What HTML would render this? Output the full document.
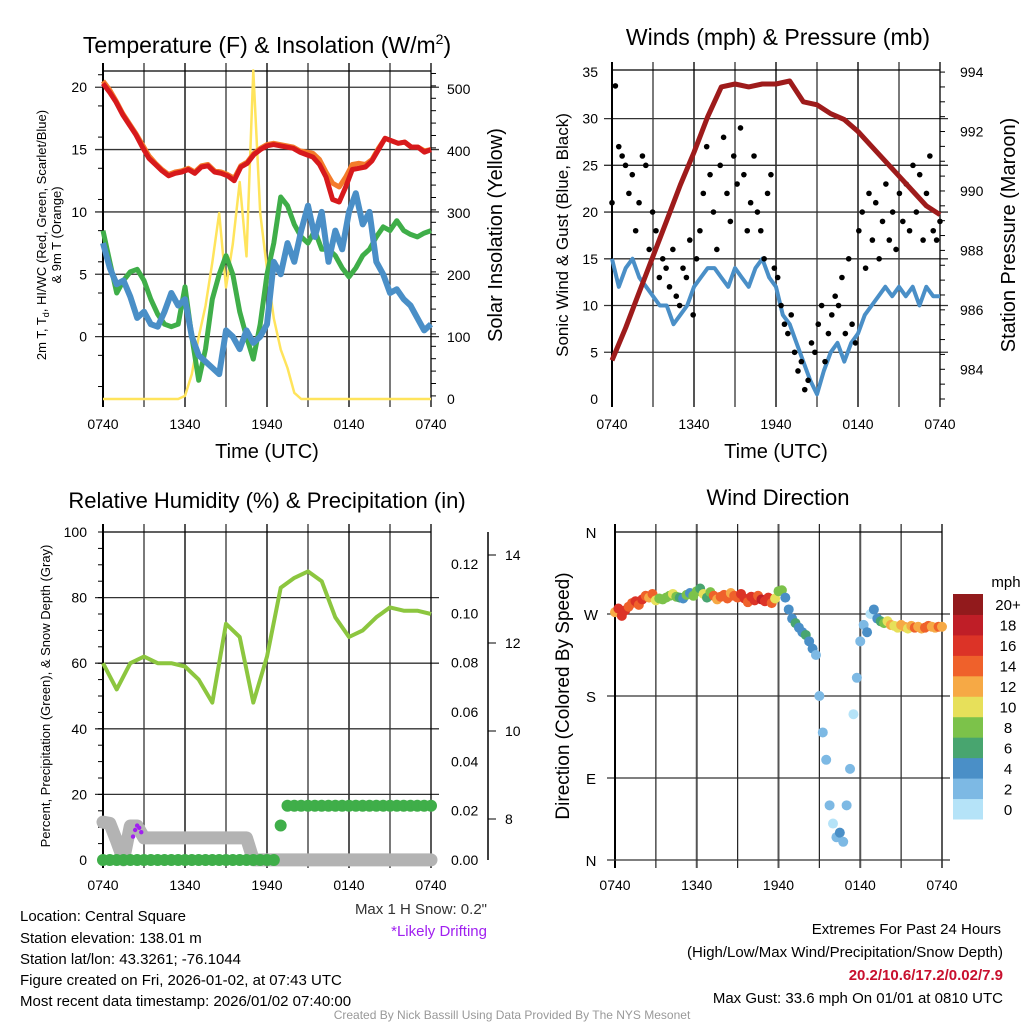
<!DOCTYPE html>
<html><head><meta charset="utf-8"><style>
html,body{margin:0;padding:0;background:#fff;}
svg{display:block;font-family:"Liberation Sans",Arial,sans-serif;}
</style></head><body>
<svg id="chart" width="1024" height="1024" viewBox="0 0 1024 1024" xmlns="http://www.w3.org/2000/svg">
<rect width="1024" height="1024" fill="#fff"/>
<text x="267" y="53" font-size="23" text-anchor="middle">Temperature (F) &amp; Insolation (W/m<tspan dy="-9" font-size="14">2</tspan><tspan dy="9">)</tspan></text>
<text x="778" y="45" font-size="23" text-anchor="middle">Winds (mph) &amp; Pressure (mb)</text>
<text x="267" y="508" font-size="22" text-anchor="middle">Relative Humidity (%) &amp; Precipitation (in)</text>
<text x="778" y="505" font-size="22" text-anchor="middle">Wind Direction</text>

<text transform="translate(46,235) rotate(-90)" font-size="13" text-anchor="middle">2m T, T<tspan dy="3" font-size="9">d</tspan><tspan dy="-3">, HI/WC (Red, Green, Scarlet/Blue)</tspan></text>
<text transform="translate(61,235) rotate(-90)" font-size="13" text-anchor="middle">&amp; 9m T (Orange)</text>
<text transform="translate(502,235) rotate(-90)" font-size="20" text-anchor="middle">Solar Insolation (Yellow)</text>
<text x="267" y="458" font-size="20" text-anchor="middle">Time (UTC)</text>
<text transform="translate(568,235) rotate(-90)" font-size="17" text-anchor="middle">Sonic Wind &amp; Gust (Blue, Black)</text>
<text transform="translate(1015,235) rotate(-90)" font-size="20" text-anchor="middle">Station Pressure (Maroon)</text>
<text x="776" y="458" font-size="20" text-anchor="middle">Time (UTC)</text>
<text transform="translate(50,696) rotate(-90)" font-size="13" text-anchor="middle">Percent, Precipitation (Green), &amp; Snow Depth (Gray)</text>
<text transform="translate(569,696) rotate(-90)" font-size="19" text-anchor="middle">Direction (Colored By Speed)</text>

<g font-size="15">
<text x="20" y="921">Location: Central Square</text>
<text x="20" y="943">Station elevation: 138.01 m</text>
<text x="20" y="964">Station lat/lon: 43.3261; -76.1044</text>
<text x="20" y="985">Figure created on Fri, 2026-01-02, at 07:43 UTC</text>
<text x="20" y="1006">Most recent data timestamp: 2026/01/02 07:40:00</text>
</g>
<text x="487" y="914" font-size="15" text-anchor="end" fill="#333">Max 1 H Snow: 0.2"</text>
<text x="487" y="936" font-size="15" text-anchor="end" fill="#a020f0">*Likely Drifting</text>
<g font-size="15" text-anchor="end">
<text x="1001" y="934">Extremes For Past 24 Hours</text>
<text x="1003" y="957">(High/Low/Max Wind/Precipitation/Snow Depth)</text>
<text x="1003" y="980" fill="#c8102e" font-weight="bold">20.2/10.6/17.2/0.02/7.9</text>
<text x="1003" y="1003">Max Gust: 33.6 mph On 01/01 at 0810 UTC</text>
</g>
<text x="512" y="1019" font-size="12" text-anchor="middle" fill="#999">Created By Nick Bassill Using Data Provided By The NYS Mesonet</text>
</svg>
<script>
// ---- data ----
const timeLabels = ["0740","1340","1940","0140","0740"];
const tempRed = [20.3,19.6,18.8,17.8,17.0,16.2,15.2,14.3,13.8,13.3,12.9,13.1,13.2,13.4,13.1,13.6,13.7,13.2,13.1,12.9,12.5,13.6,13.9,14.6,15.0,15.3,15.4,15.3,15.2,15.1,14.8,14.6,14.4,13.8,12.8,11.0,10.8,12.0,13.4,13.5,13.6,14.1,15.0,15.9,15.7,15.5,15.6,15.2,15.2,14.8,15.0];
const temp9m = [20.5,19.8,18.9,17.9,17.1,16.3,15.4,14.5,13.9,13.4,13.0,13.2,13.3,13.5,13.2,13.7,13.8,13.3,13.2,13.0,12.7,13.7,14.0,14.7,15.1,15.4,15.5,15.4,15.3,15.2,14.9,14.8,14.7,14.2,13.2,12.3,12.0,12.8,13.8,13.9,13.8,14.2,15.1,15.9,15.7,15.5,15.6,15.2,15.2,14.9,15.0];
const dewGreen = [8.5,6,3.5,4.5,5.2,5.4,4.5,3,1.8,1,0.8,1,4,0,-3.5,-1,3,5,6.5,5,2,0,-1.8,1,5,7.5,11.2,10.5,9,8,7.5,8.5,7,7,6.5,5.5,4.8,5.5,6.5,7,8,8.8,8.5,9.3,8.5,8.2,8,8.3,8.5];
const wcBlue = [7.5,5.5,4.2,4.5,3.2,1.5,2.0,1.0,0.8,2.0,3.5,2.5,3.0,0.0,-1.5,-2.0,-2.5,-3.0,0.5,0.0,-1.0,0.5,-0.5,0.0,1.0,6.0,5.0,7.5,6.0,8.5,10.5,8.0,10.0,6.0,8.5,7.0,10.0,11.5,9.0,10.0,6.0,5.0,3.5,3.8,3.0,2.5,1.5,0.5,1.0];
const solar = [0,0,0,0,0,0,0,0,0,0,0,0,5,40,100,150,220,300,180,250,350,230,530,300,210,130,80,50,10,0,0,0,0,0,0,0,0,0,0,0,0,0,0,0,0,0,0,0,0];
const tempTicks = [0,5,10,15,20];
const solarTicks = [0,100,200,300,400,500];
const windSust = [15,12,14,15,13,12,11,10,10,8,9,10,12,13,14,14,13,12,14,13,12,14,15,13,12,9,8,6,4,2,0.5,3,5,6,4,6,7,9,10,11,12,11,12,11,12,10,12,11,11];
const windGust = [21,33.5,27,26,25,22,24,18,21,26,25,16,20,18,13,15,14,12,16,11,10,14,13,17,9,15,18,22,27,24,20,16,25,28,22,19,26,23,29,24,18,21,26,20,18,15,22,24,14,13,10,8,7,9,5,3,4,1,2,6,5,8,10,4,7,9,11,10,13,7,15,8,6,18,20,14,22,17,21,15,19,23,17,20,16,22,19,23,18,25,20,24,17,22,26,18,17,19];
const pressure = [984.3,985.4,986.6,987.8,989,990.2,991.3,992.5,993.5,993.6,993.5,993.6,993.6,993.7,993.0,992.9,992.6,992.4,992.0,991.5,991.0,990.5,990.0,989.5,989.2];
const windTicks = [0,5,10,15,20,25,30,35];
const pressTicks = [984,986,988,990,992,994];
const rh = [60,52,60,62,60,60,59,55,48,72,68,48,62,83,86,88,85,74,68,70,74,77,76,76,75];
const precip = [0,0,0,0,0,0,0,0,0,0,0,0,0,0,0,0,0,0,0,0,0,0,0,0,0,0,0.014,0.022,0.022,0.022,0.022,0.022,0.022,0.022,0.022,0.022,0.022,0.022,0.022,0.022,0.022,0.022,0.022,0.022,0.022,0.022,0.022,0.022,0.022];
const snow = [7.93,7.9,7.5,7.07,7.84,7.84,7.57,7.57,7.57,7.57,7.57,7.57,7.57,7.57,7.57,7.57,7.57,7.57,7.57,7.57,7.57,7.57,7.07,7.07,7.07,7.07,7.07,7.07,7.07,7.07,7.07,7.07,7.07,7.07,7.07,7.07,7.07,7.07,7.07,7.07,7.07,7.07,7.07,7.07,7.07,7.07,7.07,7.07,7.07];
const driftHours = [2.2,2.35,2.5,2.65,2.8];
const driftSnow = [7.6,7.75,7.85,7.8,7.7];
const rhTicks = [0,20,40,60,80,100];
const precipTicks = [0,0.02,0.04,0.06,0.08,0.10,0.12];
const precipLabels = ["0.00","0.02","0.04","0.06","0.08","0.10","0.12"];
const snowTicks = [8,10,12,14];
const windDir = [272,276,268,274,278,282,284,280,286,290,288,292,
 285,287,286,288,290,292,289,288,287,291,293,290,
 295,298,292,288,294,290,286,289,291,287,293,290,
 288,292,287,283,289,285,290,286,284,288,282,287,
 295,296,288,275,
 265,260,255,250,247,240,232,225,
 180,140,110,60,
 40,25,30,20,
 60,100,160,200,
 240,258,250,270,
 275,265,262,260,
 262,258,257,255,258,256,254,257,255,256,254,255,257,256,255,256,256];
const dirSpeed = [12,16,17,16,15,14,16,15,17,14,13,15,
 10,9,8,9,8,10,9,7,4,8,5,9,
 8,7,10,6,8,14,12,15,14,15,13,14,
 15,17,16,15,16,17,15,18,16,17,15,11,
 8,9,5,4,
 4,6,4,5,6,4,4,3,
 2,2,2,2,
 1,3,4,3,
 2,2,1,3,
 3,2,4,1,
 4,5,7,8,
 10,12,11,10,12,13,11,12,14,12,13,15,14,13,12,14,13];
const dirTicks = [0,90,180,270,360];
const dirLabels = ["N","E","S","W","N"];
const speedBinLabels = ["0","2","4","6","8","10","12","14","16","18","20+"];
const speedColors = ["#b5e3f8","#7db9e4","#4a8fc7","#48a56f","#7cc24a","#e7e05a","#f6a945","#ef612b","#dc3327","#bf1e27","#921a1c"];

// ---- helpers ----
const svg = document.getElementById('chart');
const NS = 'http://www.w3.org/2000/svg';
function mk(tag, attrs, parent){const e=document.createElementNS(NS,tag);for(const k in attrs)e.setAttribute(k,attrs[k]);(parent||svg).appendChild(e);return e;}
function lin(d0,d1,r0,r1){return v=>r0+(v-d0)/(d1-d0)*(r1-r0);}
function pathFrom(vals,xf,yf){return vals.map((v,i)=>(i?'L':'M')+xf(i).toFixed(1)+','+yf(v).toFixed(1)).join('');}

function panelFrame(P, name, ylines){
  const g=mk('g',{});
  
  
  for(let k=1;k<8;k++){const x=P.x0+k*(P.x1-P.x0)/8;
    const l=mk('line',{x1:x,x2:x,y1:P.y0-8,y2:P.y1+8,stroke:k%2?'#222':'#555','stroke-width':k%2?1.2:2},g);
    
    }
  ylines.forEach(y=>{const l=mk('line',{x1:P.x0-8,x2:P.x1+8,y1:y,y2:y,stroke:'#333','stroke-width':1.3},g);
    
    });
  const t=mk('line',{x1:P.x0,x2:P.x1,y1:P.y0,y2:P.y0,stroke:'#000','stroke-width':1.3},g);
  
  
  const lft=mk('line',{x1:P.x0,x2:P.x0,y1:P.y0-8,y2:P.y1+8,stroke:'#000','stroke-width':2},g);
  
  
  const rgt=mk('line',{x1:P.x1,x2:P.x1,y1:P.y0-8,y2:P.y1+8,stroke:'#000','stroke-width':1.3},g);
  
  
  timeLabels.forEach((s,i)=>{const tx=mk('text',{x:P.x0+i*(P.x1-P.x0)/4,y:P.y1+30,'font-size':14,'text-anchor':'middle'},g);tx.textContent=s;
    
    });
  return g;
}
function yLabel(g,x,y,s,anchor,name){const t=mk('text',{x:x,y:y+5,'font-size':14,'text-anchor':anchor},g);t.textContent=s;
  
  }
function minorTicks(g,x,dir,y0,y1,step){for(let y=y0;y<=y1+0.1;y+=step){mk('line',{x1:x,x2:x+dir*5,y1:y,y2:y,stroke:'#000','stroke-width':1},g);}}

// ---- Panel 1 ----
const P1={x0:103,x1:431,y0:71,y1:399};
const t1=lin(-5,21.3,P1.y1,P1.y0), s1=lin(0,529,P1.y1,P1.y0);
const g1=panelFrame(P1,'temperature',tempTicks.map(t1));
tempTicks.forEach(v=>yLabel(g1,P1.x0-16,t1(v),String(v),'end','temp-tick-label'));
solarTicks.forEach(v=>yLabel(g1,P1.x1+16,s1(v),String(v),'start','solar-tick-label'));
minorTicks(g1,P1.x0,-1,t1(21),P1.y1,(t1(0)-t1(5))/5*2.5);
minorTicks(g1,P1.x1,1,s1(525),P1.y1,(s1(0)-s1(100))/5);
const x1n=n=>i=>P1.x0+i*(P1.x1-P1.x0)/(n-1);
let e;
e=mk('path',{d:pathFrom(solar,x1n(solar.length),s1),fill:'none',stroke:'#ffe45c','stroke-width':2.5,'stroke-linejoin':'round'});


e=mk('path',{d:pathFrom(dewGreen,x1n(dewGreen.length),t1),fill:'none',stroke:'#3fae49','stroke-width':5,'stroke-linejoin':'round'});


e=mk('path',{d:pathFrom(wcBlue,x1n(wcBlue.length),t1),fill:'none',stroke:'#4a8fc7','stroke-width':6,'stroke-linejoin':'round'});


e=mk('path',{d:pathFrom(temp9m,x1n(temp9m.length),t1),fill:'none',stroke:'#f47b2a','stroke-width':5,'stroke-linejoin':'round'});


e=mk('path',{d:pathFrom(tempRed,x1n(tempRed.length),t1),fill:'none',stroke:'#d7191c','stroke-width':5,'stroke-linejoin':'round'});



// ---- Panel 2 ----
const P2={x0:612,x1:940,y0:70,y1:399};
const w2=lin(0,35.2,P2.y1,P2.y0), p2=lin(983,994.07,P2.y1,P2.y0);
const g2=panelFrame(P2,'winds',[5,10,15,20,25,30].map(w2));
windTicks.forEach(v=>yLabel(g2,P2.x0-14,w2(v),String(v),'end','wind-tick-label'));
pressTicks.forEach(v=>yLabel(g2,P2.x1+20,p2(v),String(v),'start','pressure-tick-label'));
minorTicks(g2,P2.x1,1,p2(994),P2.y1,(p2(984)-p2(986))/4);
const x2n=n=>i=>P2.x0+i*(P2.x1-P2.x0)/(n-1);
e=mk('path',{d:pathFrom(windSust,x2n(windSust.length),w2),fill:'none',stroke:'#4a8fc7','stroke-width':4,'stroke-linejoin':'round'});


windGust.forEach((v,i)=>{const c=mk('circle',{cx:x2n(windGust.length)(i),cy:w2(v),r:2.8,fill:'#000'});
  
  });
e=mk('path',{d:pathFrom(pressure,x2n(pressure.length),p2),fill:'none',stroke:'#9e1b1b','stroke-width':5,'stroke-linejoin':'round'});



// ---- Panel 3 ----
const P3={x0:103,x1:431,y0:532,y1:860};
const r3=lin(0,100,P3.y1,P3.y0), pr3=lin(0,0.12,P3.y1,564), sn3=lin(8,14,819,555);
const g3=panelFrame(P3,'humidity',[20,40,60,80].map(r3));
rhTicks.forEach(v=>yLabel(g3,P3.x0-16,r3(v),String(v),'end','rh-tick-label'));
precipTicks.forEach((v,i)=>yLabel(g3,P3.x1+20,pr3(v),precipLabels[i],'start','precip-tick-label'));
minorTicks(g3,P3.x0,-1,P3.y0,P3.y1,(r3(0)-r3(20))/4);
e=mk('line',{x1:488,x2:488,y1:532,y2:860,stroke:'#000','stroke-width':1.5});


snowTicks.forEach(v=>{mk('line',{x1:488,x2:496,y1:sn3(v),y2:sn3(v),stroke:'#000'});yLabel(g3,505,sn3(v),String(v),'start','snow-tick-label');});
const x3n=n=>i=>P3.x0+i*(P3.x1-P3.x0)/(n-1);
e=mk('path',{d:pathFrom(snow,x3n(snow.length),sn3),fill:'none',stroke:'#b3b3b3','stroke-width':13,'stroke-linejoin':'round','stroke-linecap':'round'});


driftHours.forEach((h,i)=>{const c=mk('circle',{cx:P3.x0+h*(P3.x1-P3.x0)/24,cy:sn3(driftSnow[i]),r:2.2,fill:'#a020f0'});
  
  });
e=mk('path',{d:pathFrom(rh,x3n(rh.length),r3),fill:'none',stroke:'#8cc63f','stroke-width':4,'stroke-linejoin':'round'});


precip.forEach((v,i)=>{const c=mk('circle',{cx:x3n(precip.length)(i),cy:pr3(v),r:6,fill:'#3fae49'});
  
  });

// ---- Panel 4 ----
const P4={x0:615,x1:942,y0:532,y1:860};
const d4=lin(0,360,P4.y1,P4.y0);
const g4=panelFrame(P4,'wind-direction',[90,180,270].map(d4));
dirTicks.forEach((v,i)=>{const t=mk('text',{x:P4.x0-24,y:d4(v)+6,'font-size':15,'text-anchor':'middle'},g4);t.textContent=dirLabels[i];
  
  });
mk('line',{x1:P4.x0-8,x2:P4.x1+8,y1:P4.y1,y2:P4.y1,stroke:'#333','stroke-width':1.3},g4);
const x4n=n=>i=>P4.x0+i*(P4.x1-P4.x0)/(n-1);
windDir.forEach((v,i)=>{const b=Math.min(10,Math.floor(dirSpeed[i]/2));
  const c=mk('circle',{cx:x4n(windDir.length)(i),cy:d4(v),r:5,fill:speedColors[b]});
  
  });
const cb=mk('g',{});


const cbTop=594, cbH=225/11;
speedColors.forEach((c,i)=>{const y=cbTop+(10-i)*cbH;
  mk('rect',{x:953,y:y,width:30,height:cbH+0.5,fill:c},cb);
  const t=mk('text',{x:1008,y:y+cbH/2+6,'font-size':15,'text-anchor':'middle'},cb);t.textContent=speedBinLabels[i];
  
  });
const u=mk('text',{x:1006,y:587,'font-size':15,'text-anchor':'middle'},cb);u.textContent='mph';


</script>
</body></html>
